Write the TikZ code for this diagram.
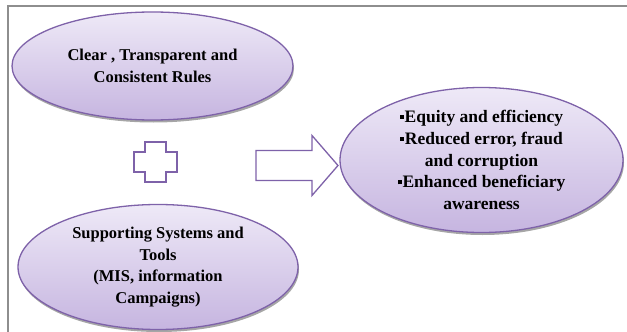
\documentclass[tikz,border=0pt]{standalone}
\usepackage{fontspec}
\setmainfont{Liberation Serif}[BoldFont={Liberation Serif Bold}]
\usetikzlibrary{shapes.geometric,shadows}
\definecolor{lavtop}{HTML}{EEE9F7}
\definecolor{lavbot}{HTML}{C6B5E0}
\definecolor{lavline}{HTML}{7E62A9}
\definecolor{framegray}{HTML}{8E8E8E}
\tikzset{
  oval/.style={ellipse, draw=lavline, line width=1.3pt, top color=lavtop, bottom color=lavbot,
    drop shadow={shadow xshift=1pt, shadow yshift=-2.5pt, fill=black, opacity=0.35},
    align=center, inner sep=0pt, font=\fontsize{16.5}{21.8}\selectfont\bfseries},
  outlineshape/.style={draw=lavline, line width=1.3pt, fill=white, line join=miter},
}
\newcommand{\sqbul}{\rule[0.2em]{0.24em}{0.24em}\hspace{0.04em}}
\begin{document}
\begin{tikzpicture}[x=1pt,y=-1pt]
\useasboundingbox (0,0) rectangle (627,332);
\fill[white] (0,0) rectangle (627,332);
\fill[framegray] (6.5,4.5) rectangle (8.5,332);
\fill[framegray] (6.5,4.5) rectangle (627,6.5);
\node[oval, minimum width=281pt, minimum height=108pt] (rules) at (152.5,66)
  {Clear , Transparent and\\Consistent Rules};
\node[oval, minimum width=280pt, minimum height=125pt] (tools) at (158,267)
  {Supporting Systems and\\Tools\\(MIS, information\\Campaigns)};
\node[oval, minimum width=283pt, minimum height=145pt, font=\fontsize{17.5}{21.8}\selectfont\bfseries] (out) at (481.5,160)
  {\sqbul Equity and efficiency\\\sqbul Reduced error, fraud\\and corruption\\\sqbul Enhanced beneficiary\\awareness};
\coordinate (plus) at (155.5,162);
\draw[outlineshape] ([shift={(-10.5,-20)}]plus) -- ([shift={(10.5,-20)}]plus) -- ([shift={(10.5,-10)}]plus)
  -- ([shift={(21.5,-10)}]plus) -- ([shift={(21.5,10)}]plus) -- ([shift={(10.5,10)}]plus)
  -- ([shift={(10.5,20)}]plus) -- ([shift={(-10.5,20)}]plus) -- ([shift={(-10.5,10)}]plus)
  -- ([shift={(-21.5,10)}]plus) -- ([shift={(-21.5,-10)}]plus) -- ([shift={(-10.5,-10)}]plus) -- cycle;
\coordinate (arr) at (256,165.5);
\draw[outlineshape] ([shift={(0,-15)}]arr) -- ([shift={(56,-15)}]arr) -- ([shift={(56,-30)}]arr)
  -- ([shift={(82,0)}]arr) -- ([shift={(56,30)}]arr) -- ([shift={(56,15)}]arr)
  -- ([shift={(0,15)}]arr) -- cycle;
\end{tikzpicture}
\end{document}
